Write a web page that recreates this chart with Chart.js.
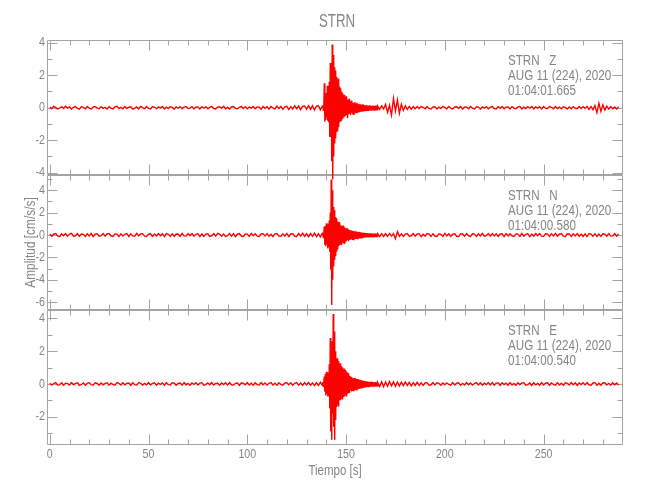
<!DOCTYPE html>
<html><head><meta charset="utf-8">
<script src="https://cdn.jsdelivr.net/npm/chart.js@4.4.1/dist/chart.umd.min.js"></script>
<style>html,body{margin:0;padding:0;background:#fff;}canvas{display:block}</style>
</head><body>
<canvas id="c" width="650" height="500"></canvas>
<script>
// ---------- texts ----------
const chartTitle = 'STRN';
const xLabel = 'Tiempo [s]';
const yLabel = 'Amplitud [cm/s/s]';
const componentLabels = ['STRN   Z', 'STRN   N', 'STRN   E'];
const dateLabel = 'AUG 11 (224), 2020';
const startLabels = ['01:04:01.665', '01:04:00.580', '01:04:00.540'];

// ---------- ticks ----------
const xMajorTicks = [0, 50, 100, 150, 200, 250];
const xMinorTicks = [10, 20, 30, 40, 60, 70, 80, 90, 110, 120, 130, 140, 160, 170, 180, 190, 210, 220, 230, 240, 260, 270, 280];
const yTicksZ = [-4, -2, 0, 2, 4];
const yMinorZ = [-3, -1, 1, 3];
const yTicksN = [-6, -4, -2, 0, 2, 4];
const yMinorN = [-5, -3, -1, 1, 3, 5];
const yTicksE = [-2, 0, 2, 4];
const yMinorE = [-3, -1, 1, 3];
const xRange = [-1.4, 290.2];
const yRangeZ = [-4.14, 4.17];
const yRangeN = [-6.7, 5.36];
const yRangeE = [-3.72, 4.51];

// ---------- sample times (s) ----------
const preStart = 0, postStart = 167, noiseStep = 1;
const evtStart = 138.25, evtStep = 0.25;

// ---------- Z component (cm/s/s) ----------
const zPre = [.04,-.06,.08,.02,-.07,-.03,.06,-.05,.09,-.02,
.05,-.08,.03,.07,-.04,-.09,.06,.02,-.06,.08,
-.03,-.07,.05,.08,-.02,-.06,.07,-.04,.03,-.08,
.06,-.02,-.07,.05,.09,-.04,.02,-.06,.07,-.05,
.03,.06,-.08,-.02,.05,-.07,.08,.01,-.05,.06,
-.04,-.08,.07,.03,-.06,.05,-.02,.08,-.07,.04,
-.05,.06,.02,-.08,.05,-.03,.07,-.06,.04,.08,
-.05,-.02,.06,-.07,.03,.05,-.08,.06,-.03,.07,
-.06,.02,.08,-.05,-.07,.04,.06,-.03,.09,-.06,
.02,-.08,.05,.07,-.04,-.06,.03,.08,-.05,.06,
-.07,.04,-.02,.08,-.06,.05,.03,-.09,.07,-.04,
.06,-.08,.09,-.03,-.07,.1,-.05,.08,-.1,.06,
.09,-.11,.07,-.08,.12,-.06,.1,-.12,.08,.11,
-.1,.13,-.09,.12,-.14,.1,.12,-.13,.11];
const zEvt = [.12,-.15,.18,1.5,-.86,.7,-.75,.9,-.6,1.35,-.8,.75,-.9,1.6,-1.8,2.75,-1.8,2.3,-3.3,3.9,
-4.4,3.25,-3.0,2.5,-2.2,2.3,-1.9,1.9,-1.5,1.6,-1.45,1.8,-1.2,1.3,-.9,1.2,-.85,1.0,-.8,.9,
-.7,.75,-.6,.8,-.55,.6,-.5,.7,-.45,.5,-.65,.45,-.4,.55,-.35,.4,-.45,.35,-.3,.45,
-.35,.3,-.4,.3,-.25,.35,-.3,.25,-.3,.3,-.2,.25,-.25,.2,-.22,.24,-.18,.2,-.2,.18,
-.2,.22,-.15,.17,-.18,.15,-.17,.16,-.14,.15,-.16,.13,-.15,.14,-.12,.15,-.13,.12,-.14,.13,
-.12,.14,-.13,.12,-.14,.13,-.12,.14,-.11,.12,-.13,.1];
const zPost = [-.1,.12,-.08,.2,-.28,.15,-.45,.58,-.2,.47,
-.35,.22,-.16,.12,-.1,.08,-.09,.07,-.06,.08,
-.05,.07,.03,-.06,.08,-.04,-.07,.05,.06,-.08,
.04,-.05,.07,.02,-.06,.08,-.03,-.07,.05,.06,
-.04,.07,-.08,.03,.05,-.06,.08,-.02,-.07,.06,
.04,-.08,.05,-.03,.07,-.06,.02,.08,-.05,-.07,
.06,-.04,.08,-.06,.03,.05,-.08,.07,-.02,-.06,
.05,.08,-.07,.04,-.05,.06,-.03,.07,-.08,.05,
-.02,.06,-.07,.08,-.04,-.05,.07,.03,-.06,.08,
-.05,.04,-.07,.06,.02,-.08,.05,-.06,.07,-.03,
-.06,.08,-.05,.07,-.04,.09,-.1,.08,-.12,.14,
-.3,.28,-.22,.18,-.14,.1,-.08,.07,-.06,.05,
-.07,.06];

// ---------- N component ----------
const nPre = [.1,-.12,.07,.13,-.09,-.14,.11,-.06,.12,-.1,
.08,.14,-.11,-.07,.12,-.13,.09,.06,-.12,.1,
-.08,.13,-.14,.07,.11,-.1,-.06,.12,-.11,.09,
.13,-.07,-.12,.1,.08,-.14,.11,-.09,.06,.12,
-.13,.1,-.08,-.11,.14,-.06,.09,.12,-.1,-.13,
.07,.11,-.12,.08,-.09,.13,-.07,.1,-.14,.12,
.06,-.1,.11,-.13,.09,.07,-.12,.14,-.08,-.1,
.12,-.07,.13,-.11,.06,.1,-.14,.09,-.12,.08,
.11,-.13,-.07,.12,-.1,.14,.08,-.11,.09,-.12,
-.06,.13,-.1,.11,-.14,.07,.12,-.09,-.13,.1,
.08,-.12,.14,-.07,.11,-.1,-.13,.09,.12,-.08,
.13,-.11,.06,-.14,.1,.12,-.09,-.12,.11,-.1,
.14,-.13,.09,.12,-.11,-.14,.13,-.1,.15,-.12,
.11,-.15,.13,-.12,.16,-.14,.12,-.16,.15];
const nEvt = [.2,-.22,.25,.75,-.9,.8,-1.0,1.05,-.85,.9,-1.2,1.0,-1.1,1.3,-1.5,2.0,-3.1,4.95,-6.25,4.0,
-4.0,2.5,-2.8,2.2,-2.2,1.6,-1.9,1.5,-1.5,1.2,-1.3,1.1,-1.0,1.15,-.9,.9,-.85,.75,-.9,.8,
-.7,.85,-.75,.7,-.8,.6,-.65,.55,-.5,.6,-.45,.5,-.55,.45,-.4,.42,-.45,.38,-.35,.4,
-.38,.35,-.4,.32,-.3,.35,-.3,.3,-.28,.3,-.32,.26,-.25,.28,-.26,.25,-.22,.24,-.25,.22,
-.2,.19,-.18,.2,-.17,.19,-.16,.18,-.17,.15,-.16,.17,-.15,.14,-.16,.15,-.14,.15,-.13,.14,
-.15,.13,-.14,.12,-.13,.14,-.12,.13,-.14,.12,-.13,.12];
const nPost = [-.14,.12,-.13,.11,-.12,.14,-.1,.12,-.32,.3,
-.12,.1,-.13,.08,.12,-.11,-.07,.13,-.1,.09,
.12,-.14,.07,-.1,.13,.08,-.12,.11,-.09,-.13,
.1,.06,-.12,.14,-.08,.11,-.13,.07,.1,-.11,
-.14,.12,.09,-.1,.13,-.07,-.12,.11,.08,-.13,
.1,-.09,.14,-.11,-.06,.12,-.1,.13,-.08,.11,
-.12,.07,.1,-.14,.12,-.09,.11,-.07,-.13,.1,
.08,-.12,.13,-.1,.06,.11,-.14,.09,-.11,.12,
-.07,.13,-.1,-.12,.11,.08,-.13,.1,-.09,.14,
-.11,.07,.12,-.1,-.13,.11,.09,-.12,.1,-.08,
.13,-.11,.07,-.12,.1,-.14,.12,.08,-.1,.11,
-.13,.09,-.12,.1,.07,-.11,.13,-.1,-.08,.12,
-.11,.1];

// ---------- E component ----------
const ePre = [.05,-.07,.03,.08,-.06,-.04,.07,-.08,.05,.02,
-.06,.08,-.05,.04,.07,-.08,-.03,.06,-.07,.05,
.08,-.04,-.06,.07,.03,-.08,.06,-.05,.04,.07,
-.08,.05,-.03,-.07,.08,.04,-.06,.07,-.05,.03,
.06,-.08,.07,-.04,-.06,.08,.05,-.07,.03,-.05,
.08,-.06,.04,.07,-.08,.05,-.03,.06,-.07,.08,
-.04,-.06,.07,.05,-.08,.03,.06,-.07,.08,-.05,
.04,-.08,.06,-.03,.07,-.06,.05,.08,-.07,-.04,
.06,-.05,.08,-.07,.03,.05,-.08,.06,-.04,.07,
-.06,.08,-.05,-.07,.04,.06,-.08,.07,.03,-.05,
.08,-.06,.05,-.08,.07,-.04,-.06,.08,-.05,.06,
-.07,.04,.08,-.06,.05,-.08,.07,-.03,-.07,.06,
.08,-.05,.07,-.08,.04,.09,-.07,.06,-.09,.08,
-.06,.09,-.08,.07,-.1,.08,-.09,.1,-.08];
const eEvt = [.12,-.14,.15,.45,-.47,.6,-.7,.75,-.6,.7,-.77,.65,-.75,1.2,-1.5,2.8,-2.9,1.7,-3.4,2.6,
-1.8,4.27,-2.6,3.2,-3.4,2.0,-2.2,1.5,-1.4,1.57,-1.3,1.4,-1.38,1.2,-1.0,1.26,-.98,1.1,-.9,1.0,
-.95,.9,-.8,.95,-.75,.85,-.7,.75,-.77,.7,-.6,.65,-.55,.5,-.55,.45,-.4,.42,-.45,.4,
-.38,.35,-.4,.36,-.32,.38,-.3,.32,-.35,.3,-.28,.3,-.26,.27,-.25,.25,-.22,.24,-.23,.22,
-.2,.2,-.18,.19,-.17,.18,-.16,.17,-.15,.16,-.14,.15,-.15,.13,-.14,.12,-.13,.14,-.12,.13,
-.11,.12,-.13,.11,-.12,.1,-.11,.12,-.1,.11,-.12,.1];
const ePost = [-.15,.13,-.16,.12,-.14,.15,-.11,.13,-.14,.12,
-.12,.11,-.1,.12,-.09,.1,-.11,.08,-.09,.1,
-.08,.07,-.09,.06,.08,-.07,-.05,.08,-.06,.07,
.04,-.08,.06,-.05,.07,-.03,-.07,.08,-.06,.05,
.07,-.08,.04,-.06,.08,-.05,.06,-.07,.03,.08,
-.06,.07,-.08,.05,-.04,.07,-.06,.08,-.07,.05,
.06,-.08,.07,-.04,.05,-.07,.08,-.06,.03,-.08,
.07,-.05,.06,.08,-.07,-.04,.06,-.08,.07,-.05,
.04,-.07,.08,-.06,.05,.07,-.08,.06,-.03,-.07,
.08,-.06,.05,-.08,.07,.04,-.06,.08,-.05,.07,
-.08,.06,-.04,.07,-.06,.08,-.05,-.07,.06,.08,
-.07,.05,-.08,.06,.07,-.06,.04,-.08,.07,-.05,
.06,-.07];

// ---------- styling ----------
const FAMILY = "'Liberation Sans', Arial, sans-serif";
const TEXT = '#858585';
const AXIS = '#a3a3a3';
const RED = '#ff0000';

function series(pre, evt, post) {
  const pts = [];
  pre.forEach((v, i) => pts.push({x: preStart + i * noiseStep, y: v}));
  evt.forEach((v, i) => pts.push({x: evtStart + i * evtStep, y: v}));
  post.forEach((v, i) => pts.push({x: postStart + i * noiseStep, y: v}));
  return pts;
}

const panels = [
  {axis: 'y1', major: yTicksZ, minor: yMinorZ, label: componentLabels[0], start: startLabels[0]},
  {axis: 'y2', major: yTicksN, minor: yMinorN, label: componentLabels[1], start: startLabels[1]},
  {axis: 'y3', major: yTicksE, minor: yMinorE, label: componentLabels[2], start: startLabels[2]}
];

function yAxis(range, ticks) {
  return {
    type: 'linear', position: 'left', stack: 'panels', stackWeight: 1,
    min: range[0], max: range[1],
    afterBuildTicks: s => { s.ticks = ticks.map(v => ({value: v})); },
    afterFit: s => { s.width = 47; },
    grid: {display: false}, border: {display: false},
    ticks: {display: false}
  };
}

// condensed text helper (IDL-like narrow lettering)
function txt(ctx, s, x, y, size, align, sx, rot) {
  ctx.save();
  ctx.font = size + 'px ' + FAMILY;
  ctx.textAlign = align;
  ctx.textBaseline = 'middle';
  ctx.translate(x, y);
  if (rot) ctx.rotate(rot);
  ctx.scale(sx, 1);
  ctx.fillText(s, 0, 0);
  ctx.restore();
}

const framePlugin = {
  id: 'frame',
  beforeDatasetsDraw(chart) {
    const ctx = chart.ctx, xs = chart.scales.x;
    const L = Math.round(chart.chartArea.left) + 0.5;
    const R = Math.round(chart.chartArea.right) - 0.5;
    ctx.save();
    ctx.strokeStyle = AXIS; ctx.lineWidth = 1;
    panels.forEach(p => {
      const ys = chart.scales[p.axis];
      const T = Math.round(ys.top) + 0.5, B = Math.round(ys.bottom) - 0.5;
      ctx.beginPath();
      ctx.rect(L, T, R - L, B - T);
      const xt = (v, len) => {
        const px = Math.round(xs.getPixelForValue(v)) + 0.5;
        ctx.moveTo(px, B); ctx.lineTo(px, B - len);
        ctx.moveTo(px, T); ctx.lineTo(px, T + len);
      };
      xMajorTicks.forEach(v => xt(v, 10));
      xMinorTicks.forEach(v => xt(v, 5));
      const yt = (v, len) => {
        const py = Math.round(ys.getPixelForValue(v)) + 0.5;
        ctx.moveTo(L, py); ctx.lineTo(L + len, py);
        ctx.moveTo(R, py); ctx.lineTo(R - len, py);
      };
      p.major.forEach(v => yt(v, 10));
      p.minor.forEach(v => yt(v, 5));
      ctx.stroke();
    });
    ctx.restore();

    // tick labels and axis titles
    ctx.save();
    ctx.fillStyle = TEXT;
    const ca = chart.chartArea;
    panels.forEach(p => {
      const ys = chart.scales[p.axis];
      p.major.forEach(v => txt(ctx, String(v), ca.left - 2, ys.getPixelForValue(v), 13, 'right', 0.82));
    });
    xMajorTicks.forEach(v => txt(ctx, String(v), xs.getPixelForValue(v), 454, 13, 'center', 0.82));
    txt(ctx, xLabel, (ca.left + ca.right) / 2, 471, 14, 'center', 0.82);
    const y2 = chart.scales.y2;
    txt(ctx, yLabel, 31, (y2.top + y2.bottom) / 2, 14, 'center', 0.85, -Math.PI / 2);
    ctx.restore();
  },
  afterDraw(chart) {
    const ctx = chart.ctx, ca = chart.chartArea;
    ctx.save();
    ctx.fillStyle = TEXT;
    txt(ctx, chartTitle, (ca.left + ca.right) / 2 + 2, 22, 19, 'center', 0.7);
    panels.forEach(p => {
      const ys = chart.scales[p.axis];
      const x = ca.left + 461;
      txt(ctx, p.label, x, ys.top + 21.5, 14, 'left', 0.83);
      txt(ctx, dateLabel, x, ys.top + 36.5, 14, 'left', 0.83);
      txt(ctx, p.start, x, ys.top + 51, 14, 'left', 0.83);
    });
    ctx.restore();
  }
};

const lineDs = (data, axis) => ({
  data, yAxisID: axis, xAxisID: 'x',
  borderColor: RED, borderWidth: 1.4, pointRadius: 0, tension: 0, fill: false, clip: false
});

new Chart(document.getElementById('c'), {
  type: 'line',
  data: {
    datasets: [
      lineDs(series(zPre, zEvt, zPost), 'y1'),
      lineDs(series(nPre, nEvt, nPost), 'y2'),
      lineDs(series(ePre, eEvt, ePost), 'y3')
    ]
  },
  options: {
    responsive: false, animation: false, devicePixelRatio: 1,
    layout: {padding: {top: 40, right: 27, bottom: 0, left: 0}},
    plugins: {legend: {display: false}, tooltip: {enabled: false}, title: {display: false}},
    scales: {
      x: {
        type: 'linear', position: 'bottom', min: xRange[0], max: xRange[1],
        afterBuildTicks: s => { s.ticks = xMajorTicks.map(v => ({value: v})); },
        afterFit: s => { s.height = 55; },
        grid: {display: false}, border: {display: false},
        ticks: {display: false}
      },
      // left boxes are stacked bottom-up, so the lowest panel is declared first
      y3: yAxis(yRangeE, yTicksE),
      y2: yAxis(yRangeN, yTicksN),
      y1: yAxis(yRangeZ, yTicksZ)
    }
  },
  plugins: [framePlugin]
});
</script>
</body></html>
